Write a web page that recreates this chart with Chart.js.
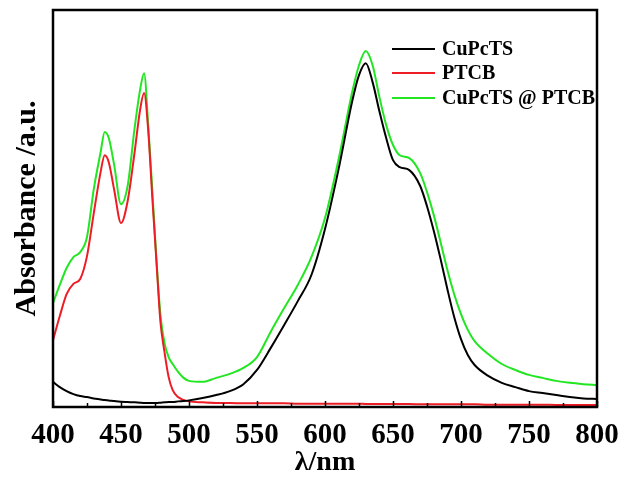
<!DOCTYPE html>
<html>
<head>
<meta charset="utf-8">
<script src="https://cdn.jsdelivr.net/npm/chart.js@4.4.1/dist/chart.umd.min.js"></script>
<style>
  html, body { margin: 0; padding: 0; background: #fff; }
  #wrap { width: 624px; height: 477px; }
</style>
</head>
<body>
<div id="wrap"><canvas id="uvvis"></canvas></div>
<script>
// wavelength grid (nm) shared by the three spectra
const wavelengths = [400, 405, 410, 415, 420, 425, 430, 435, 438, 441, 445, 450, 455, 460, 464, 467,
  470, 473, 476, 479, 482, 485, 488, 492, 496, 500, 510, 520, 530, 540, 550, 560, 570, 580, 590, 600,
  610, 620, 625, 630, 635, 640, 645, 650, 655, 662, 670, 675, 680, 685, 690, 695, 700, 705, 710,
  720, 730, 740, 750, 760, 770, 780, 790, 800];

const cupcts = [0.076, 0.060, 0.048, 0.039, 0.033, 0.030, 0.026, 0.023, 0.021, 0.020, 0.018, 0.016,
  0.015, 0.014, 0.013, 0.012, 0.012, 0.012, 0.012, 0.013, 0.014, 0.015, 0.015, 0.017, 0.018, 0.020,
  0.027, 0.036, 0.048, 0.069, 0.112, 0.178, 0.248, 0.320, 0.399, 0.538, 0.719, 0.924, 1.003, 1.039,
  0.982, 0.894, 0.813, 0.746, 0.725, 0.716, 0.668, 0.607, 0.532, 0.447, 0.356, 0.272, 0.205, 0.157,
  0.127, 0.094, 0.073, 0.060, 0.048, 0.042, 0.036, 0.030, 0.026, 0.024];

const ptcb = [0.202, 0.275, 0.341, 0.372, 0.387, 0.456, 0.586, 0.710, 0.761, 0.740, 0.656, 0.556,
  0.625, 0.770, 0.897, 0.949, 0.837, 0.634, 0.444, 0.257, 0.166, 0.091, 0.051, 0.030, 0.021, 0.017,
  0.014, 0.012, 0.012, 0.011, 0.011, 0.011, 0.011, 0.010, 0.010, 0.010, 0.010, 0.010, 0.010, 0.009,
  0.009, 0.009, 0.009, 0.009, 0.009, 0.009, 0.008, 0.008, 0.008, 0.008, 0.008, 0.008, 0.008, 0.008,
  0.008, 0.007, 0.007, 0.007, 0.007, 0.007, 0.006, 0.006, 0.006, 0.006];

const hybrid = [0.314, 0.369, 0.420, 0.453, 0.468, 0.514, 0.659, 0.770, 0.831, 0.813, 0.731, 0.613,
  0.671, 0.843, 0.958, 1.009, 0.852, 0.656, 0.450, 0.278, 0.193, 0.151, 0.130, 0.106, 0.088, 0.079,
  0.076, 0.088, 0.100, 0.118, 0.151, 0.227, 0.299, 0.369, 0.453, 0.571, 0.749, 0.952, 1.033, 1.076,
  1.033, 0.937, 0.852, 0.792, 0.761, 0.752, 0.707, 0.650, 0.580, 0.498, 0.414, 0.341, 0.281, 0.233,
  0.199, 0.160, 0.130, 0.112, 0.097, 0.088, 0.079, 0.073, 0.069, 0.066];

const seriesNames = ["CuPcTS", "PTCB", "CuPcTS @ PTCB"];
const seriesColors = ["#000000", "#ee1c24", "#22e622"];
const xTicks = [400, 450, 500, 550, 600, 650, 700, 750, 800];

const serif = "'Liberation Serif', 'Times New Roman', serif";

function pts(vals) {
  return vals.map((v, i) => ({ x: wavelengths[i], y: v }));
}

// frame, inward ticks and the legend inside the plot
const framePlugin = {
  id: "frame",
  afterDraw(chart) {
    const { ctx, chartArea: a } = chart;
    const xs = chart.scales.x;
    ctx.save();
    ctx.strokeStyle = "#000";
    ctx.lineWidth = 1.5;
    for (let v = 400; v <= 800; v += 25) {
      const px = Math.round(xs.getPixelForValue(v)) + 0.5;
      const len = v % 50 === 0 ? 6 : 4;
      ctx.beginPath();
      ctx.moveTo(px, a.bottom);
      ctx.lineTo(px, a.bottom - len);
      ctx.stroke();
    }
    ctx.lineWidth = 2.5;
    ctx.strokeRect(a.left, a.top, a.right - a.left, a.bottom - a.top);

    ctx.font = "bold 20px " + serif;
    ctx.textBaseline = "middle";
    ctx.fillStyle = "#000";
    ctx.lineWidth = 2;
    const rows = [49, 73, 98];
    seriesNames.forEach((name, i) => {
      ctx.strokeStyle = seriesColors[i];
      ctx.beginPath();
      ctx.moveTo(392, rows[i]);
      ctx.lineTo(435, rows[i]);
      ctx.stroke();
      ctx.fillText(name, 442, rows[i] + 1);
    });
    ctx.restore();
  },
};

new Chart(document.getElementById("uvvis"), {
  type: "line",
  data: {
    datasets: [cupcts, ptcb, hybrid].map((vals, i) => ({
      label: seriesNames[i],
      data: pts(vals),
      borderColor: seriesColors[i],
      borderWidth: 2,
      pointRadius: 0,
      fill: false,
      cubicInterpolationMode: "monotone",
    })),
  },
  options: {
    responsive: true,
    maintainAspectRatio: false,
    animation: false,
    layout: { padding: { left: 0, right: 27, top: 10, bottom: 0 } },
    plugins: { legend: { display: false }, tooltip: { enabled: false } },
    scales: {
      x: {
        type: "linear",
        min: 400,
        max: 800,
        afterBuildTicks: (s) => { s.ticks = xTicks.map((v) => ({ value: v })); },
        afterFit: (s) => { s.height = 70; s.paddingLeft = 0; s.paddingRight = 0; },
        grid: { display: false },
        border: { display: false },
        ticks: {
          color: "#000",
          padding: 3,
          maxRotation: 0,
          autoSkip: false,
          font: { family: serif, size: 29, weight: "bold" },
        },
        title: {
          display: true,
          text: "λ/nm",
          color: "#000",
          padding: { top: 1, bottom: 0 },
          font: { family: serif, size: 28, weight: "bold", lineHeight: 1 },
        },
      },
      y: {
        min: 0,
        max: 1.2,
        afterFit: (s) => { s.width = 53; },
        grid: { display: false },
        border: { display: false },
        ticks: { display: false },
        title: {
          display: true,
          text: "Absorbance /a.u.",
          color: "#000",
          padding: { top: 12, bottom: 0 },
          font: { family: serif, size: 30, weight: "bold", lineHeight: 1 },
        },
      },
    },
  },
  plugins: [framePlugin],
});
</script>
</body>
</html>
